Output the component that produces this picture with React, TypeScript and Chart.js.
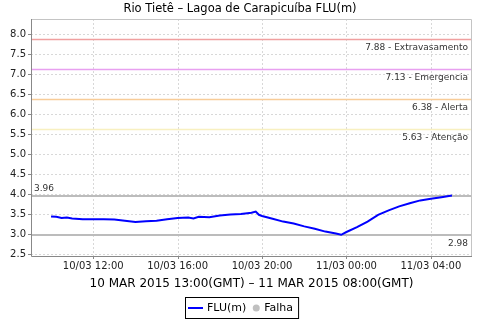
import React, { useEffect, useRef } from 'react';
import { Chart, registerables } from 'chart.js';

Chart.register(...registerables);

// ---- data ----
const chartTitle = 'Rio Tietê – Lagoa de Carapicuíba FLU(m)';
const xAxisTitle = '10 MAR 2015 13:00(GMT) – 11 MAR 2015 08:00(GMT)';
const seriesName = 'FLU(m)';
const failName = 'Falha';

// hours since 10/03 00:00 (local time)
const times = [10.0, 10.25, 10.5, 10.75, 11.0, 11.5, 12.0, 12.5, 13.0, 13.5, 14.0, 14.5, 15.0, 15.5, 16.0, 16.5, 16.75, 17.0, 17.5, 18.0, 18.5, 19.0, 19.5, 19.7, 19.85, 20.0, 20.5, 21.0, 21.5, 22.0, 22.5, 23.0, 23.5, 23.75, 24.0, 24.5, 25.0, 25.5, 26.0, 26.5, 27.0, 27.5, 28.0, 28.5, 29.0];
const values = [3.44, 3.43, 3.40, 3.41, 3.39, 3.37, 3.37, 3.37, 3.36, 3.33, 3.30, 3.32, 3.33, 3.37, 3.40, 3.41, 3.39, 3.43, 3.42, 3.46, 3.49, 3.50, 3.53, 3.56, 3.48, 3.45, 3.38, 3.31, 3.26, 3.19, 3.13, 3.06, 3.01, 2.98, 3.05, 3.17, 3.31, 3.48, 3.59, 3.69, 3.77, 3.84, 3.88, 3.92, 3.96];

const xTickHours = [12, 16, 20, 24, 28];
const xTickLabels = ['10/03 12:00', '10/03 16:00', '10/03 20:00', '11/03 00:00', '11/03 04:00'];
const yTickValues = [2.5, 3.0, 3.5, 4.0, 4.5, 5.0, 5.5, 6.0, 6.5, 7.0, 7.5, 8.0];

const thresholdValues = [7.88, 7.13, 6.38, 5.63];
const thresholdNames = ['Extravasamento', 'Emergencia', 'Alerta', 'Atenção'];
const thresholdColors = ['#f0a0a0', '#e8a0f0', '#f8cc98', '#f8f0c0'];

const xMin = 9.05;
const xMax = 29.95;
const yMin = 2.45;
const yMax = 8.375;

const FONT = '"DejaVu Sans", sans-serif';

const overlay = {
  id: 'overlay',
  beforeDatasetsDraw(chart: any) {
    const { ctx, chartArea: a, scales } = chart;
    const xs = scales.x;
    const ys = scales.y;
    ctx.save();
    // grid
    ctx.strokeStyle = '#d8d8d8';
    ctx.lineWidth = 1;
    ctx.setLineDash([2, 2]);
    yTickValues.forEach((v) => {
      const y = Math.round(ys.getPixelForValue(v)) + 0.5;
      ctx.beginPath();
      ctx.moveTo(a.left, y);
      ctx.lineTo(a.right, y);
      ctx.stroke();
    });
    xTickHours.forEach((h) => {
      const x = Math.round(xs.getPixelForValue(h)) + 0.5;
      ctx.beginPath();
      ctx.moveTo(x, a.top);
      ctx.lineTo(x, a.bottom);
      ctx.stroke();
    });
    ctx.setLineDash([]);
    // thresholds
    thresholdValues.forEach((v, i) => {
      const y = Math.round(ys.getPixelForValue(v)) + 0.5;
      ctx.strokeStyle = thresholdColors[i];
      ctx.lineWidth = 1.5;
      ctx.beginPath();
      ctx.moveTo(a.left, y);
      ctx.lineTo(a.right, y);
      ctx.stroke();
    });
    // max / min lines
    const maxV = Math.max(...values);
    const minV = Math.min(...values);
    [maxV, minV].forEach((v) => {
      const y = Math.round(ys.getPixelForValue(v));
      ctx.strokeStyle = '#bcbcbc';
      ctx.lineWidth = 2;
      ctx.beginPath();
      ctx.moveTo(a.left, y);
      ctx.lineTo(a.right, y);
      ctx.stroke();
    });
    ctx.restore();
  },
  afterDraw(chart: any) {
    const { ctx, chartArea: a, scales, width } = chart;
    const xs = scales.x;
    const ys = scales.y;
    ctx.save();
    // border
    ctx.lineWidth = 1;
    ctx.strokeStyle = '#c4c4c4';
    ctx.beginPath();
    ctx.moveTo(a.left, a.top + 0.5);
    ctx.lineTo(a.right - 0.5, a.top + 0.5);
    ctx.lineTo(a.right - 0.5, a.bottom);
    ctx.stroke();
    ctx.strokeStyle = '#888888';
    ctx.beginPath();
    ctx.moveTo(a.left + 0.5, a.top);
    ctx.lineTo(a.left + 0.5, a.bottom + 0.5);
    ctx.lineTo(a.right, a.bottom + 0.5);
    ctx.stroke();
    // tick marks
    yTickValues.forEach((v) => {
      const y = Math.round(ys.getPixelForValue(v)) + 0.5;
      ctx.beginPath();
      ctx.moveTo(a.left - 3, y);
      ctx.lineTo(a.left, y);
      ctx.stroke();
    });
    xTickHours.forEach((h) => {
      const x = Math.round(xs.getPixelForValue(h)) + 0.5;
      ctx.beginPath();
      ctx.moveTo(x, a.bottom);
      ctx.lineTo(x, a.bottom + 3);
      ctx.stroke();
    });
    // threshold labels
    ctx.fillStyle = '#333333';
    ctx.font = `9px ${FONT}`;
    ctx.textBaseline = 'top';
    ctx.textAlign = 'right';
    thresholdValues.forEach((v, i) => {
      const y = Math.round(ys.getPixelForValue(v));
      ctx.fillText(`${v.toFixed(2)} - ${thresholdNames[i]}`, a.right - 4, y + 4);
    });
    const maxV = Math.max(...values);
    const minV = Math.min(...values);
    ctx.textBaseline = 'alphabetic';
    ctx.textAlign = 'left';
    ctx.fillText(maxV.toFixed(2), a.left + 3, Math.round(ys.getPixelForValue(maxV)) - 5);
    ctx.textAlign = 'right';
    ctx.textBaseline = 'top';
    ctx.fillText(minV.toFixed(2), a.right - 4, Math.round(ys.getPixelForValue(minV)) + 4);
    // title
    ctx.fillStyle = '#000000';
    ctx.textAlign = 'center';
    ctx.textBaseline = 'alphabetic';
    ctx.font = `11.5px ${FONT}`;
    ctx.fillText(chartTitle, width / 2, 12);
    // x axis title
    ctx.font = `12px ${FONT}`;
    ctx.fillText(xAxisTitle, (a.left + a.right) / 2, 287);
    // legend
    ctx.font = `11px ${FONT}`;
    const w1 = ctx.measureText(seriesName).width;
    const w2 = ctx.measureText(failName).width;
    const boxW = 3 + 15 + 4 + w1 + 6 + 8 + 4 + w2 + 5;
    const bx = Math.round(width / 2 - boxW / 2 + 2);
    const by = 297;
    ctx.strokeStyle = '#000000';
    ctx.lineWidth = 1;
    ctx.strokeRect(bx + 0.5, by + 0.5, boxW, 21);
    let cx = bx + 3;
    const cy = by + 11;
    ctx.strokeStyle = '#0000ff';
    ctx.lineWidth = 2;
    ctx.beginPath();
    ctx.moveTo(cx, cy);
    ctx.lineTo(cx + 15, cy);
    ctx.stroke();
    cx += 19;
    ctx.fillStyle = '#000000';
    ctx.textAlign = 'left';
    ctx.textBaseline = 'middle';
    ctx.fillText(seriesName, cx, cy);
    cx += w1 + 6;
    ctx.fillStyle = '#c0c0c0';
    ctx.beginPath();
    ctx.arc(cx + 4, cy, 3.5, 0, Math.PI * 2);
    ctx.fill();
    cx += 12;
    ctx.fillStyle = '#000000';
    ctx.fillText(failName, cx, cy);
    ctx.restore();
  },
};

export default function App() {
  const ref = useRef<HTMLCanvasElement | null>(null);
  useEffect(() => {
    if (!ref.current) return;
    const chart = new Chart(ref.current, {
      type: 'line',
      data: {
        datasets: [
          {
            label: seriesName,
            data: times.map((t, i) => ({ x: t, y: values[i] })),
            borderColor: '#0000ff',
            backgroundColor: '#0000ff',
            borderWidth: 2,
            pointRadius: 0,
            tension: 0,
            fill: false,
          },
        ],
      },
      options: {
        responsive: false,
        animation: false,
        events: [],
        layout: { padding: { top: 19, right: 8, bottom: 0, left: 0 } },
        plugins: {
          legend: { display: false },
          title: { display: false },
          tooltip: { enabled: false },
        },
        scales: {
          x: {
            type: 'linear',
            min: xMin,
            max: xMax,
            grid: { display: false, drawTicks: false },
            border: { display: false },
            afterBuildTicks: (s: any) => {
              s.ticks = xTickHours.map((v) => ({ value: v }));
            },
            afterFit: (s: any) => {
              s.height = 64;
            },
            ticks: {
              padding: 4,
              maxRotation: 0,
              autoSkip: false,
              color: '#222222',
              font: { family: FONT, size: 10 },
              callback: (v: any) => {
                const i = xTickHours.indexOf(Number(v));
                return i >= 0 ? xTickLabels[i] : '';
              },
            },
          },
          y: {
            type: 'linear',
            min: yMin,
            max: yMax,
            grid: { display: false, drawTicks: false },
            border: { display: false },
            afterBuildTicks: (s: any) => {
              s.ticks = yTickValues.map((v) => ({ value: v }));
            },
            afterFit: (s: any) => {
              s.width = 31;
            },
            ticks: {
              padding: 5,
              color: '#222222',
              font: { family: FONT, size: 10 },
              callback: (v: any) => Number(v).toFixed(1),
            },
          },
        },
      },
      plugins: [overlay],
    });
    return () => chart.destroy();
  }, []);
  return (
    <div style={{ position: 'absolute', left: 0, top: 0, width: 480, height: 320, background: '#ffffff' }}>
      <canvas ref={ref} width={480} height={320} style={{ width: 480, height: 320, display: 'block' }} />
    </div>
  );
}
